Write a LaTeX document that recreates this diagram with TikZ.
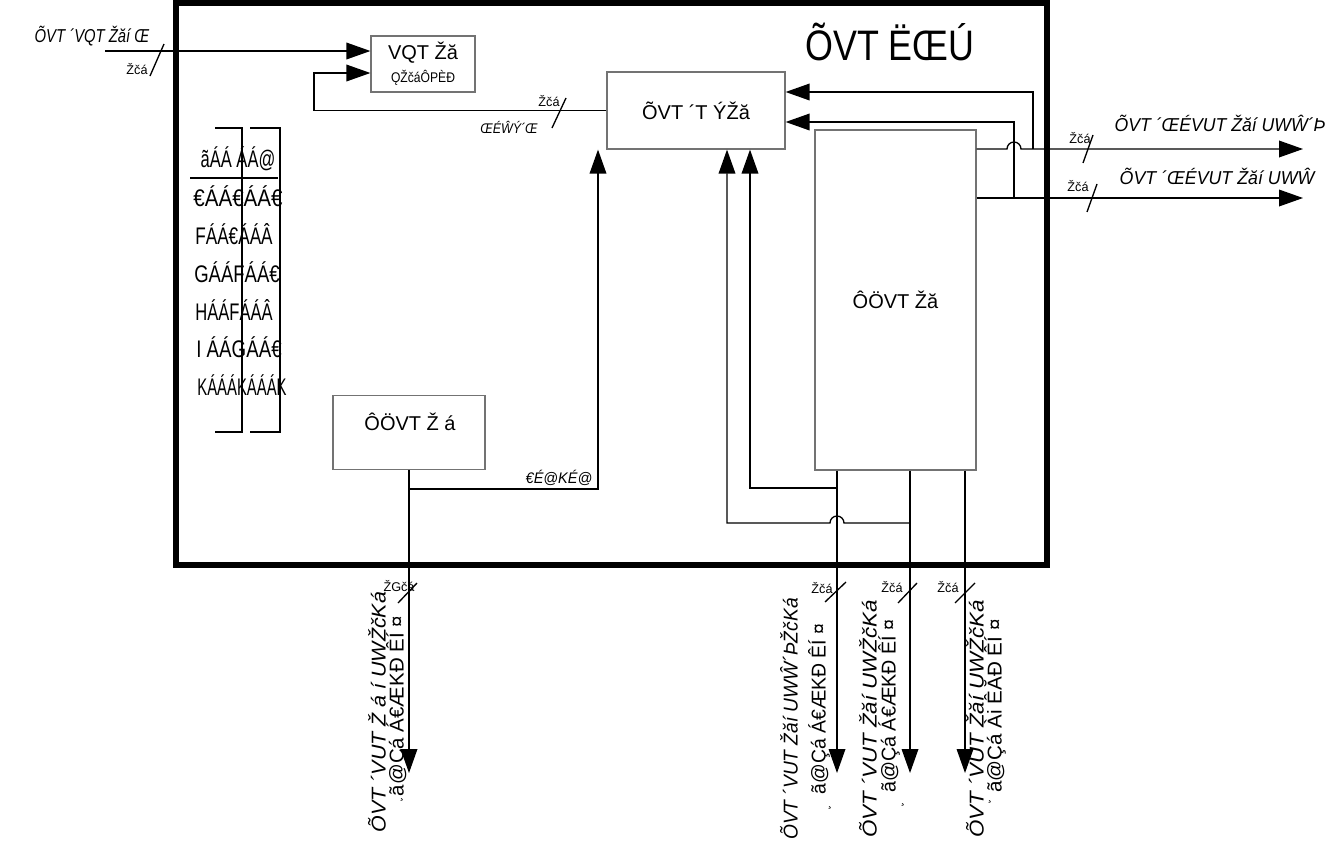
\documentclass[tikz,border=0pt]{standalone}
\usepackage{fontspec}
\setmainfont{Liberation Sans}
\usetikzlibrary{arrows.meta}
\newcommand{\sqz}[2]{\resizebox{#1}{\height}{#2}}
\begin{document}
\begin{tikzpicture}[x=0.75pt,y=-0.75pt,
  box/.style={draw=black!55,line width=0.9pt,fill=white,inner sep=0pt,align=center},
  txt/.style={font=\fontsize{15}{18}\selectfont,inner sep=0pt},
  itx/.style={font=\fontsize{14}{17}\selectfont\itshape,inner sep=0pt},
  rtx/.style={font=\fontsize{15}{18}\selectfont\itshape,inner sep=0pt,rotate=90},
  rtu/.style={font=\fontsize{15}{18}\selectfont,inner sep=0pt,rotate=90},
  sml/.style={font=\fontsize{9.5}{11}\selectfont,inner sep=0pt},
  tbl/.style={font=\fontsize{18}{20}\selectfont,inner sep=0pt},
  conn/.style={line width=1pt},
  arr/.style={conn,-{Triangle[length=18pt,width=12.5pt]}},
  tick/.style={line width=1pt},
  rule/.style={line width=1pt}]
\path[use as bounding box] (0,0) rectangle (1344,843);
\draw[line width=3.8pt] (176,3) rectangle (1047,565);

\node[txt,font=\fontsize{32}{36}\selectfont] (title) at (890,42) {\sqz{127pt}{ÕVT ËŒÚ}};

% boxes
\node[box,txt,minimum width=78pt,minimum height=42pt] (ctrl) at (423,64) {VQT Žă\\[-1pt]{\fontsize{10.5}{12}\selectfont\sqz{48pt}{ǪŽčáÔPÈÐ}}};
\node[box,txt,minimum width=133.5pt,minimum height=57.75pt] (main) at (696,110.5) {ÕVT ´T ÝŽă};
\node[box,txt,minimum width=120.75pt,minimum height=255pt] (big) at (895.5,300) {ÔÖVT Žă};
\node[box,minimum width=114pt,minimum height=56pt] (src) at (409,432.5) {};
\node[txt] (srct) at (410,422) {ÔÖVT Ž á};

% input
\coordinate (inS) at (105,51);
\draw[arr] (inS) -- (inS -| ctrl.west);
\draw[tick] (150,76) -- (164,44);
\node[sml] (inL) at (137,69) {Žčá};
\node[itx] (inT) at (92,36) {\sqz{86pt}{ÕVT ´VQT Žăí Œ}};

% feedback
\coordinate (fbK) at (314,73);
\draw[arr] (main.west) -| (fbK) -- (fbK -| ctrl.west);
\draw[tick] (552,128) -- (566,98);
\node[sml] (fbL) at (549,101) {Žčá};
\node[itx,font=\fontsize{10.5}{12}\selectfont\itshape] (fbT) at (509,127) {\sqz{43pt}{ŒÉŴÝ´Œ}};

% src -> main
\coordinate (jS) at (409,489);
\coordinate (xA) at (598,0);
\draw[arr] (src.south) -- (jS) -| (main.south -| xA);
\node[itx,font=\fontsize{11.5}{13}\selectfont\itshape] (srcL) at (559,478) {\sqz{50pt}{€É@ΚÉ@}};

% src -> output
\coordinate (oS) at (409,773);
\draw[arr] (src.south) -- (oS);
\draw[tick] (398,603) -- (417,583);
\node[sml] (oSL) at (399,586) {ŽGčá};
\node[rtx] (oSA) at (377,712) {\sqz{180pt}{ÕVT ´VUT Ž á í UWŽčKá}};
\node[rtu] (oSB) at (397,706) {\sqz{135pt}{ã@Çá Á€ÆΚÐ ÊÍ ¤}};
\node[sml] (oSC) at (402,800) {¸};

% big -> outputs down
\coordinate (o1) at (837,773);
\coordinate (o2) at (910,773);
\coordinate (o3) at (965,773);
\draw[arr] (big.south -| o1) -- (o1);
\draw[arr] (big.south -| o2) -- (o2);
\draw[arr] (big.south -| o3) -- (o3);

% branches back to main
\coordinate (b1) at (837,488);
\coordinate (xB1) at (750,0);
\draw[arr] (b1) -| (main.south -| xB1);
\coordinate (b2) at (910,523);
\coordinate (xB2) at (727,0);
\draw[arr] (b2) -- (844,523) arc[start angle=0,end angle=-180,radius=7] -- (727,523) -- (main.south -| xB2);

% right outputs
\coordinate (r1) at (1303,149);
\coordinate (r2) at (1303,198);
\draw[arr] (big.east |- r1) -- (1007,149) arc[start angle=180,end angle=360,radius=7] -- (r1);
\draw[arr] (big.east |- r2) -- (r2);
\coordinate (c1) at (1033,149);
\coordinate (c2) at (1014,198);
\coordinate (yA) at (0,92);
\coordinate (yB) at (0,122);
\draw[arr] (c1) |- (main.east |- yA);
\draw[arr] (c2) |- (main.east |- yB);

\draw[tick] (1083,163) -- (1093,135);
\node[sml] (r1L) at (1080,138) {Žčá};
\node[itx] (r1T) at (1220,123) {\sqz{158pt}{ÕVT ´ŒÉVUT Žăí UWŴ´Þ}};
\draw[tick] (1087,212) -- (1097,184);
\node[sml] (r2L) at (1078,186) {Žčá};
\node[itx] (r2T) at (1217,176) {\sqz{146pt}{ÕVT ´ŒÉVUT Žăí UWŴ}};

% bottom labels
\draw[tick] (825,602) -- (846,582);
\node[sml] (o1L) at (822,588) {Žčá};
\draw[tick] (898,603) -- (917,583);
\node[sml] (o2L) at (892,587) {Žčá};
\draw[tick] (955,603) -- (975,583);
\node[sml] (o3L) at (948,587) {Žčá};

\node[rtx] (o1A) at (789,719) {\sqz{181pt}{ÕVT ´VUT Žăí UWŴ´ÞŽčKá}};
\node[rtu] (o1B) at (819,709) {\sqz{128pt}{ã@Çá Á€ÆΚÐ ÊÍ ¤}};
\node[sml] (o1C) at (830,808) {¸};
\node[rtx] (o2A) at (868,719) {\sqz{178pt}{ÕVT ´VUT Žăí UWŽčKá}};
\node[rtu] (o2B) at (889,706) {\sqz{130pt}{ã@Çá Á€ÆΚÐ ÊÍ ¤}};
\node[sml] (o2C) at (903,805) {¸};
\node[rtx] (o3A) at (975,719) {\sqz{178pt}{ÕVT ´VUT Žăí UWŽčKá}};
\node[rtu] (o3B) at (995,706) {\sqz{130pt}{ã@Çá Ài ÊĂÐ ÊÍ ¤}};
\node[sml] (o3C) at (990,802) {¸};

% table
\draw[rule] (215,128) -- (242,128) -- (242,432) -- (215,432);
\draw[rule] (250,128) -- (280,128) -- (280,432) -- (250,432);
\draw[rule] (190,178) -- (278,178);
\node[tbl] (t0) at (238,159) {\sqz{56pt}{ãÁÁ ÁÁ@}};
\node[tbl] (t1) at (238,196) {\sqz{67pt}{€ÁÁ€ÁÁ€}};
\node[tbl] (t2) at (234,234) {\sqz{58pt}{FÁÁ€ÁÁÂ}};
\node[tbl] (t3) at (237,272) {\sqz{64pt}{GÁÁFÁÁ€}};
\node[tbl] (t4) at (234,310) {\sqz{58pt}{HÁÁFÁÁÂ}};
\node[tbl] (t5) at (239,347) {\sqz{64pt}{I ÁÁGÁÁ€}};
\node[tbl] (t6) at (242,385) {\sqz{67pt}{KÁÁÁKÁÁÁK}};
\end{tikzpicture}
\end{document}
